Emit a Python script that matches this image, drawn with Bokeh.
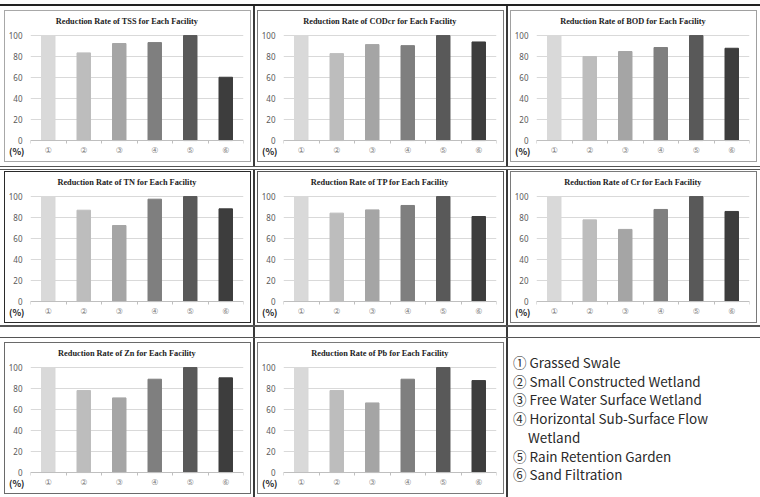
from bokeh.plotting import figure
from bokeh.models import (ColumnDataSource, Range1d, FixedTicker, Label, LinearAxis,
                          Spacer, Div)
from bokeh.layouts import row, column
from bokeh.embed import file_html
from bokeh.resources import INLINE

# Facilities (x categories) and their legend names
facility_marks = ["①", "②", "③", "④", "⑤", "⑥"]
facility_names = [
    "Grassed Swale",
    "Small Constructed Wetland",
    "Free Water Surface Wetland",
    "Horizontal Sub-Surface Flow\nWetland",
    "Rain Retention Garden",
    "Sand Filtration",
]
bar_colors = ["#d9d9d9", "#bdbdbd", "#a5a5a5", "#7f7f7f", "#595959", "#3d3d3d"]
y_ticks = [0, 20, 40, 60, 80, 100]

# Reduction rate (%) per facility for each pollutant
tss = [100, 83.5, 92.4, 93.3, 100, 60.3]
codcr = [100, 82.8, 91.4, 90.4, 100, 93.9]
bod = [100, 80.0, 84.8, 88.6, 100, 87.9]
tn = [100, 87.0, 72.4, 97.5, 100, 88.3]
tp = [100, 84.2, 87.3, 91.5, 100, 81.0]
cr = [100, 77.8, 68.7, 87.7, 100, 85.8]
zn = [100, 78.1, 71.1, 88.9, 100, 90.2]
pb = [100, 78.1, 66.3, 88.9, 100, 87.6]

LINE = "#3a3a3a"
FIG_W, FIG_H = 245, 150
# visible y span: padded below 0 for the facility marks and above 100 for the heading
Y_LOW, Y_HIGH = -19, 121
UNIT_Y = -10  # where the "(%)" unit marker sits


def no_ticks(axis):
    axis.axis_line_color = None
    axis.major_tick_line_color = None
    axis.minor_tick_line_color = None
    axis.major_tick_out = axis.major_tick_in = 0
    axis.minor_tick_out = axis.minor_tick_in = 0


def rate_chart(param, rates, frame_color, margin):
    xs = list(range(1, len(facility_marks) + 1))
    src = ColumnDataSource(dict(x=xs, rate=rates, color=bar_colors))
    p = figure(
        width=FIG_W, height=FIG_H, output_backend="svg", toolbar_location=None,
        x_range=Range1d(0.5, len(xs) + 0.5), y_range=Range1d(Y_LOW, Y_HIGH),
        min_border_left=22, min_border_right=7, min_border_top=2, min_border_bottom=1,
        margin=margin,
        styles={"outline": f"1px solid {frame_color}", "outline-offset": "0px"},
    )
    p.vbar(x="x", bottom=0, top="rate", width=0.38, color="color", source=src)

    p.outline_line_color = None
    p.background_fill_color = "white"
    p.border_fill_color = "white"

    p.xgrid.grid_line_color = None
    p.ygrid.ticker = FixedTicker(ticks=y_ticks)
    p.ygrid.grid_line_color = "#d9d9d9"

    yax = p.yaxis[0]
    yax.ticker = FixedTicker(ticks=y_ticks)
    no_ticks(yax)
    yax.major_label_text_font = "Noto Sans"
    yax.major_label_text_font_size = "8px"
    yax.major_label_text_color = "#595959"
    yax.major_label_standoff = 8

    unit_axis = LinearAxis(
        ticker=FixedTicker(ticks=[UNIT_Y]), major_label_overrides={UNIT_Y: "(%)"},
        major_label_text_font="Noto Sans CJK KR", major_label_text_font_style="bold",
        major_label_text_font_size="9px", major_label_text_color="#222222",
        major_label_standoff=-19,
    )
    no_ticks(unit_axis)
    p.add_layout(unit_axis, "left")

    xax = p.xaxis[0]
    xax.fixed_location = 0
    xax.ticker = FixedTicker(ticks=xs, minor_ticks=[x - 0.5 for x in xs] + [xs[-1] + 0.5])
    xax.major_label_overrides = {x: m for x, m in zip(xs, facility_marks)}
    xax.axis_line_color = "#bfbfbf"
    xax.major_tick_line_color = None
    xax.major_tick_out = 0
    xax.minor_tick_line_color = "#bfbfbf"
    xax.minor_tick_out = 3
    xax.minor_tick_in = 0
    xax.major_label_text_font = "DejaVu Sans"
    xax.major_label_text_font_size = "8px"
    xax.major_label_text_color = "#7f7f7f"
    xax.major_label_standoff = 2

    # chart heading above the 100 line
    p.add_layout(Label(x=(len(xs) + 1) / 2, y=y_ticks[-1], x_offset=-10, y_offset=14,
                       text=f"Reduction Rate of {param} for Each Facility",
                       text_font="Liberation Serif", text_font_style="bold",
                       text_font_size="8.3px", text_color="#222222",
                       text_align="center", text_baseline="middle"))
    return p


def hline(h, color):
    return Spacer(width=760, height=h, margin=0, styles={"background-color": color})


def vline(h, w=2, color=LINE):
    return Spacer(width=w, height=h, margin=0, styles={"background-color": color})


def blank(w, h):
    return Spacer(width=w, height=h, margin=0, styles={"background-color": "white"})


legend_items = "".join(
    f'<div style="padding-left:15px;text-indent:-15px;white-space:pre-line">{m} {n}</div>'
    for m, n in zip(facility_marks, facility_names)
)
legend = Div(
    text=f'<div style="font-family:\'Noto Sans CJK KR\';font-size:13.5px;line-height:18.7px;'
         f'color:#2a2a2a;padding:15px 0 0 5px">{legend_items}</div>',
    width=252, height=159, margin=0,
)

row1 = row(
    rate_chart("TSS", tss, "#a8a8a8", (5, 3, 5, 5)), vline(160),
    rate_chart("CODcr", codcr, "#7a7a7a", (5, 3, 5, 3)), vline(160),
    rate_chart("BOD", bod, "#a0a0a0", (5, 4, 5, 3)),
)
row2 = row(
    rate_chart("TN", tn, "#2a2a2a", (2, 3, 3, 5)), vline(155),
    rate_chart("TP", tp, "#555555", (2, 3, 3, 3)), vline(155),
    rate_chart("Cr", cr, "#7a7a7a", (2, 4, 3, 3)),
)
gap = row(blank(253, 10), vline(10), blank(251, 10), vline(10), blank(252, 10))
row3 = row(
    rate_chart("Zn", zn, "#6a6a6a", (5, 3, 4, 5)), vline(159),
    rate_chart("Pb", pb, "#7a7a7a", (5, 3, 4, 3)), vline(159),
    legend,
)

page = column(
    hline(4, "white"), hline(2, "#222222"),
    row1,
    hline(1, "#555555"), hline(2, "white"), hline(1, "#555555"),
    row2,
    hline(2, "#555555"), gap, hline(1, "#555555"),
    row3,
)

open("out.html", "w").write(file_html(page, INLINE))
